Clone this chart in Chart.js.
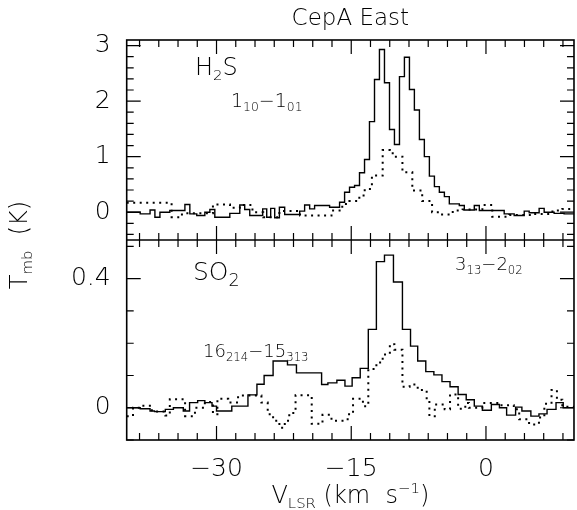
<!DOCTYPE html>
<html><head><meta charset="utf-8">
<script src="https://cdn.jsdelivr.net/npm/chart.js@4/dist/chart.umd.min.js"></script>
<style>html,body{margin:0;padding:0;background:#fff;}</style>
</head><body>
<canvas id="c" width="577" height="510"></canvas>
<script>
// ---- data (velocity of each channel-run start, km/s ; Tmb, K) ----
const h2sSolidV = [-40.0,-38.5,-37.4,-36.86,-36.3,-35.2,-33.52,-32.97,-32.2,-31.3,-30.74,-30.19,-28.52,-27.41,-26.86,-26.3,-24.86,-24.41,-23.97,-23.52,-23.0,-22.41,-20.74,-20.19,-19.63,-19.08,-17.41,-16.3,-15.74,-15.19,-14.63,-14.08,-13.52,-12.97,-12.41,-11.86,-11.3,-10.74,-10.19,-9.63,-9.08,-8.52,-7.97,-7.41,-6.86,-6.3,-5.74,-5.19,-4.63,-4.08,-2.97,-2.41,-1.3,-0.74,2.03,3.14,4.26,4.81,5.92,6.48,7.59,8.7,9.8];
const h2sSolidT = [0.0,-0.03,0.04,-0.09,0.0,0.03,0.14,-0.03,-0.06,0.0,0.05,-0.09,-0.02,0.13,0.05,-0.06,0.06,-0.09,0.07,-0.1,0.09,-0.04,0.02,0.13,0.06,0.12,0.09,0.18,0.36,0.45,0.48,0.71,0.95,1.63,2.39,2.93,2.33,1.49,1.22,2.44,2.79,2.21,1.84,1.31,1.0,0.65,0.46,0.36,0.28,0.15,0.12,0.04,0.12,0.03,-0.03,-0.06,0.02,-0.01,0.07,0.0,-0.02,-0.03,-0.03];
const h2sDotV = [-40.0,-35.0,-33.85,-30.4,-28.5,-27.4,-26.0,-24.8,-23.0,-20.7,-17.2,-16.0,-15.2,-14.1,-13.5,-12.7,-11.5,-10.7,-10.2,-9.3,-8.2,-7.1,-6.0,-5.2,-3.7,-2.6,-0.4,0.7,2.6,5.1,7.4,8.5,9.8];
const h2sDotT = [0.17,-0.09,-0.02,0.14,0.08,0.13,0.0,-0.09,0.02,-0.06,0.03,0.15,0.2,0.3,0.42,0.66,1.12,1.06,1.0,0.72,0.39,0.2,0.0,-0.04,0.03,0.05,0.13,-0.08,-0.05,-0.03,0.03,0.06,0.06];
const so2SolidV = [-40.0,-38.5,-37.4,-36.9,-35.7,-34.8,-33.7,-33.0,-32.1,-31.3,-30.5,-30.0,-28.3,-26.5,-25.5,-24.7,-23.7,-22.1,-21.1,-18.3,-17.6,-16.6,-15.7,-14.9,-14.0,-13.1,-12.2,-11.3,-10.3,-9.3,-8.4,-7.6,-6.7,-5.8,-4.9,-4.0,-3.1,-2.2,-1.3,-0.4,0.6,1.5,2.3,3.3,4.0,5.0,5.9,6.8,7.8,8.6,9.8];
const so2SolidT = [0.0,-0.003,-0.01,-0.012,-0.005,0.0,-0.01,0.016,0.022,0.016,0.005,-0.01,0.005,0.04,0.073,0.1,0.145,0.133,0.108,0.072,0.077,0.085,0.067,0.093,0.122,0.243,0.453,0.473,0.39,0.243,0.191,0.145,0.112,0.102,0.081,0.065,0.041,0.025,0.005,-0.008,0.01,0.0,-0.023,0.002,-0.01,-0.026,-0.019,-0.005,0.016,0.0,0.0];
const so2DotV = [-40.0,-39.3,-38.5,-37.2,-35.7,-35.2,-33.5,-32.4,-31.3,-30.4,-29.9,-28.7,-27.6,-25.0,-24.3,-23.7,-23.0,-22.4,-21.9,-21.2,-19.4,-18.2,-17.2,-15.4,-14.8,-13.7,-13.1,-12.2,-11.5,-10.7,-10.2,-9.3,-8.5,-7.6,-6.6,-6.3,-5.7,-4.6,-4.0,-3.1,-2.3,-1.9,-0.4,1.5,3.1,3.7,4.8,5.9,6.5,7.3,7.9,8.5,9.8];
const so2DotT = [-0.026,0.0,0.006,-0.012,-0.024,0.026,-0.026,0.0,0.018,-0.02,0.028,0.016,0.038,0.016,-0.02,-0.04,-0.062,-0.04,-0.016,0.039,-0.05,-0.022,-0.04,-0.02,0.028,0.005,0.12,0.14,0.165,0.197,0.18,0.065,0.072,0.055,0.025,-0.026,0.01,-0.005,0.041,-0.003,0.015,0.0,0.015,0.008,-0.005,-0.036,-0.052,-0.03,0.012,0.055,0.025,0.003,0.003];

// ---- axes / tick labels ----
const xRange = [-40, 9.8];
const xMajor = [-30, -15, 0];
const xMajorLabels = ['\u221230', '\u221215', '0'];
const xMinorPerMajor = 7;
const topRange = [-0.5, 3.1];
const topMajor = [0, 1, 2, 3];
const topMajorLabels = ['0', '1', '2', '3'];
const topMinorStep = 0.2;
const botRange = [-0.1, 0.52];
const botMajor = [0, 0.4];
const botMajorLabels = ['0', '0.4'];
const botMinorStep = 0.1;

const FAM = '"DejaVu Sans", sans-serif';
const WGT = '200';

function pts(V, T) { return V.map((v, i) => ({ x: v, y: T[i] })); }

function xTicks(scale) {
  const step = (xMajor[1] - xMajor[0]) / xMinorPerMajor;
  const out = [];
  for (let k = -20; k <= 20; k++) {
    const v = xMajor[0] + k * step;
    if (v < scale.min - 1e-6 || v > scale.max + 1e-6) continue;
    out.push({ value: v, major: k % xMinorPerMajor === 0 });
  }
  scale.ticks = out;
}
function yTicks(major, stepMinor) {
  return function (scale) {
    const out = [];
    const n0 = Math.ceil(scale.min / stepMinor - 1e-6), n1 = Math.floor(scale.max / stepMinor + 1e-6);
    for (let n = n0; n <= n1; n++) {
      const v = +(n * stepMinor).toFixed(6);
      out.push({ value: v, major: major.some(m => Math.abs(m - v) < 1e-6) });
    }
    scale.ticks = out;
  };
}
function labelFor(majors, labels) {
  return function (value) {
    const i = majors.findIndex(m => Math.abs(m - value) < 1e-6);
    return i >= 0 ? labels[i] : '';
  };
}

function rich(ctx, x, y, parts, size) {
  let cx = x;
  for (const p of parts) {
    const [t, k, sc] = p;
    const fs = k === 0 ? size : size * (sc || 0.62);
    ctx.font = `${WGT} ${fs}px ${FAM}`;
    const dy = k === -1 ? size * 0.22 : (k === 1 ? -size * 0.42 : 0);
    ctx.fillText(t, cx, y + dy);
    cx += ctx.measureText(t).width;
  }
  return cx - x;
}
function richWidth(ctx, parts, size) {
  let w = 0;
  for (const p of parts) {
    const [t, k, sc] = p;
    const fs = k === 0 ? size : size * (sc || 0.62);
    ctx.font = `${WGT} ${fs}px ${FAM}`;
    w += ctx.measureText(t).width;
  }
  return w;
}

const framePlugin = {
  id: 'frame',
  afterDraw(chart) {
    const ctx = chart.ctx, a = chart.chartArea;
    const xs = chart.scales.x, yt = chart.scales.yTop, yb = chart.scales.yBot;
    ctx.save();
    ctx.strokeStyle = '#000'; ctx.lineWidth = 1.6;
    ctx.strokeRect(a.left, a.top, a.right - a.left, a.bottom - a.top);
    const sep = Math.min(yt.bottom, yb.bottom);
    ctx.beginPath(); ctx.moveTo(a.left, sep); ctx.lineTo(a.right, sep); ctx.stroke();
    ctx.lineWidth = 1.2;
    ctx.beginPath();
    for (const panel of [yt, yb]) {
      for (const t of xs.ticks) {
        const px = xs.getPixelForValue(t.value);
        const L = t.major ? 14 : 7;
        ctx.moveTo(px, panel.top); ctx.lineTo(px, panel.top + L);
        ctx.moveTo(px, panel.bottom); ctx.lineTo(px, panel.bottom - L);
      }
      for (const t of panel.ticks) {
        const py = panel.getPixelForValue(t.value);
        const L = t.major ? 14 : 7;
        ctx.moveTo(a.left, py); ctx.lineTo(a.left + L, py);
        ctx.moveTo(a.right, py); ctx.lineTo(a.right - L, py);
      }
    }
    ctx.stroke();

    // texts
    ctx.fillStyle = '#000';
    ctx.textBaseline = 'alphabetic';
    ctx.textAlign = 'left';
    const midX = (a.left + a.right) / 2;
    ctx.font = `${WGT} 23px ${FAM}`;
    const tw = ctx.measureText('CepA East').width;
    ctx.fillText('CepA East', midX - tw / 2, 25);
    rich(ctx, 195, 75, [['H', 0], ['2', -1, 0.62], ['S', 0]], 24);
    rich(ctx, 231, 107, [['1', 0], ['10', -1, 0.65], ['\u22121', 0], ['01', -1, 0.65]], 19);
    rich(ctx, 193, 280, [['SO', 0], ['2', -1, 0.7]], 25);
    rich(ctx, 455, 270, [['3', 0], ['13', -1, 0.65], ['\u22122', 0], ['02', -1, 0.65]], 18);
    rich(ctx, 203, 357, [['16', 0], ['214', -1, 0.65], ['\u221215', 0], ['313', -1, 0.65]], 18);
    const xl = [['V', 0], ['LSR', -1, 0.62], [' (km  s', 0], ['\u22121', 1, 0.62], [')', 0]];
    const xw = richWidth(ctx, xl, 24);
    rich(ctx, midX - xw / 2, 503, xl, 24);
    const yl = [['T', 0], ['mb', -1, 0.62], ['  (K)', 0]];
    const yw = richWidth(ctx, yl, 24);
    ctx.save();
    ctx.translate(27, 245);
    ctx.rotate(-Math.PI / 2);
    rich(ctx, -yw / 2, 0, yl, 24);
    ctx.restore();
    ctx.restore();
  }
};

const tickFont = { family: FAM, size: 25, weight: WGT };

new Chart(document.getElementById('c'), {
  type: 'line',
  data: {
    datasets: [
      { label: 'H2S', data: pts(h2sSolidV, h2sSolidT), yAxisID: 'yTop', stepped: 'before', borderColor: '#000', borderWidth: 1.4, pointRadius: 0, fill: false },
      { label: 'H2S dotted', data: pts(h2sDotV, h2sDotT), yAxisID: 'yTop', stepped: 'before', borderColor: '#000', borderWidth: 2, borderDash: [2, 4.5], pointRadius: 0, fill: false },
      { label: 'SO2', data: pts(so2SolidV, so2SolidT), yAxisID: 'yBot', stepped: 'before', borderColor: '#000', borderWidth: 1.4, pointRadius: 0, fill: false },
      { label: 'SO2 dotted', data: pts(so2DotV, so2DotT), yAxisID: 'yBot', stepped: 'before', borderColor: '#000', borderWidth: 2, borderDash: [2, 4.5], pointRadius: 0, fill: false }
    ]
  },
  options: {
    responsive: false, animation: false, devicePixelRatio: 1,
    layout: { padding: { top: 40, right: 2, left: 0, bottom: 0 } },
    plugins: { legend: { display: false }, tooltip: { enabled: false }, title: { display: false } },
    scales: {
      x: {
        type: 'linear', position: 'bottom', min: xRange[0], max: xRange[1],
        afterBuildTicks: xTicks,
        afterFit: s => { s.height = 70; },
        grid: { display: false, drawTicks: false }, border: { display: false },
        ticks: { autoSkip: false, maxRotation: 0, minRotation: 0, padding: 14, color: '#000', font: tickFont, callback: labelFor(xMajor, xMajorLabels) }
      },
      yBot: {
        type: 'linear', position: 'left', stack: 'panels', stackWeight: 1, min: botRange[0], max: botRange[1],
        afterBuildTicks: yTicks(botMajor, botMinorStep),
        afterFit: s => { s.width = 126.7; },
        grid: { display: false, drawTicks: false }, border: { display: false },
        ticks: { autoSkip: false, padding: 16, color: '#000', font: tickFont, callback: labelFor(botMajor, botMajorLabels) }
      },
      yTop: {
        type: 'linear', position: 'left', stack: 'panels', stackWeight: 1, min: topRange[0], max: topRange[1],
        afterBuildTicks: yTicks(topMajor, topMinorStep),
        afterFit: s => { s.width = 126.7; },
        grid: { display: false, drawTicks: false }, border: { display: false },
        ticks: { autoSkip: false, padding: 16, color: '#000', font: tickFont, callback: labelFor(topMajor, topMajorLabels) }
      }
    }
  },
  plugins: [framePlugin]
});
</script>
</body></html>
